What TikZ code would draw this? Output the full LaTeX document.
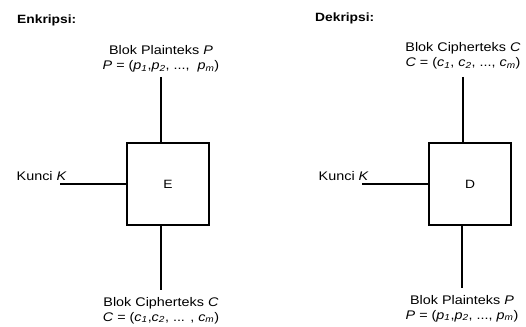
\documentclass[tikz,border=0pt]{standalone}
\usepackage{fontspec}
\setmainfont{Liberation Sans}[FakeStretch=1.15]
\begin{document}
\begin{tikzpicture}[x=1pt,y=-1pt,
  ln/.style={line width=1.4pt},
  blk/.style={draw,line width=1.4pt,minimum width=82pt,minimum height=82pt,inner sep=0pt,font=\fontsize{12}{14}\selectfont},
  lbl/.style={inner sep=0pt,font=\fontsize{12.5}{14}\selectfont,align=center},
  hdr/.style={inner sep=0pt,anchor=base west,font=\fontsize{12}{14}\selectfont\bfseries}]
\useasboundingbox (0,0) rectangle (526,326);
\newcommand{\vsub}[2]{\textit{#1}\textsubscript{\textit{#2}}}
% Enkripsi
\node[hdr] (h1) at (17,24) {Enkripsi:};
\node[blk] (E) at (168,184) {E};
\node[lbl,anchor=base] (pt1) at (161,55) {Blok Plainteks \textit{P}};
\node[lbl,anchor=base] (pt2) at (161,70) {\textit{P} = (\vsub{p}{1},\vsub{p}{2}, ..., \ \vsub{p}{m})};
\coordinate (et) at (161,77);
\draw[ln] (et) -- (et |- E.north);
\node[lbl,anchor=base east] (k1) at (67,180) {Kunci \textit{K}};
\coordinate (ek) at (60,184);
\draw[ln] (ek) -- (E.west);
\coordinate (eb) at (161,290);
\draw[ln] (eb |- E.south) -- (eb);
\node[lbl,anchor=base] (ct1) at (161,306) {Blok Cipherteks \textit{C}};
\node[lbl,anchor=base] (ct2) at (161,321) {\textit{C} = (\vsub{c}{1},\vsub{c}{2}, ... , \vsub{c}{m})};
% Dekripsi
\node[hdr] (h2) at (315,22) {Dekripsi:};
\node[blk] (D) at (470,184) {D};
\node[lbl,anchor=base] (ct3) at (463,52) {Blok Cipherteks \textit{C}};
\node[lbl,anchor=base] (ct4) at (463,67) {\textit{C} = (\vsub{c}{1}, \vsub{c}{2}, ..., \vsub{c}{m})};
\coordinate (dt) at (463,77);
\draw[ln] (dt) -- (dt |- D.north);
\node[lbl,anchor=base east] (k2) at (369,180) {Kunci \textit{K}};
\coordinate (dk) at (362,184);
\draw[ln] (dk) -- (D.west);
\coordinate (db) at (462,288);
\draw[ln] (db |- D.south) -- (db);
\node[lbl,anchor=base] (pt3) at (462,304) {Blok Plainteks \textit{P}};
\node[lbl,anchor=base] (pt4) at (462,319) {\textit{P} = (\vsub{p}{1},\vsub{p}{2}, ..., \vsub{p}{m})};
\end{tikzpicture}
\end{document}
